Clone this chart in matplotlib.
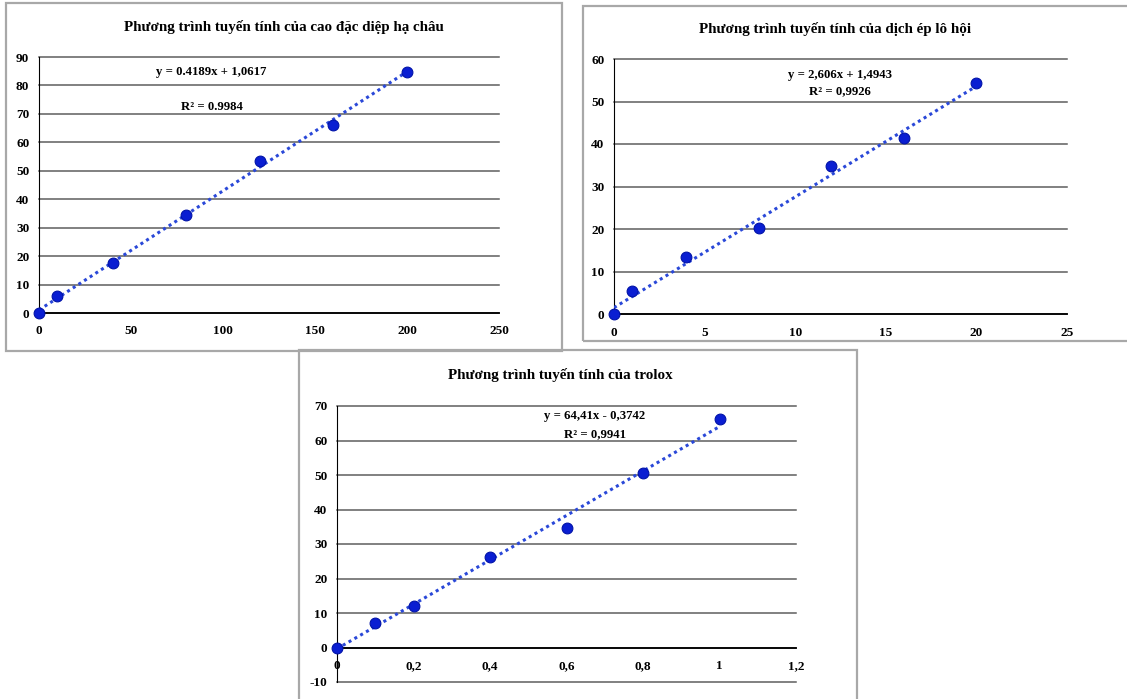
import matplotlib
matplotlib.use("Agg")
import matplotlib.pyplot as plt
import numpy as np
from matplotlib.patches import Rectangle

plt.rcParams['font.family'] = ['Liberation Serif', 'DejaVu Serif']
plt.rcParams['font.weight'] = 'bold'
plt.rcParams['axes.unicode_minus'] = False

# data
x_hachau = [0, 10, 40, 80, 120, 160, 200]
y_hachau = [0, 5.9, 17.6, 34.4, 53.3, 66.1, 84.9]
coef_hachau = (0.4189, 1.0617)

x_lohoi = [0, 1, 4, 8, 12, 16, 20]
y_lohoi = [0, 5.5, 13.4, 20.3, 34.8, 41.3, 54.3]
coef_lohoi = (2.606, 1.4943)

x_trolox = [0, 0.1, 0.2, 0.4, 0.6, 0.8, 1.0]
y_trolox = [0, 7.0, 12.1, 26.3, 34.6, 50.7, 66.2]
coef_trolox = (64.41, -0.3742)

W, H = 1127, 699
fig = plt.figure(figsize=(W / 100, H / 100), dpi=100)


def px(l, t, r, b):
    # pixel box (top-left origin) -> figure fraction
    return [l / W, (H - b) / H, (r - l) / W, (b - t) / H]


# panel frames
for (l, t, r, b) in [(6, 3, 562, 351), (583, 6, 1130, 341), (299, 350, 857, 702)]:
    fig.add_artist(Rectangle((l / W, (H - b) / H), (r - l) / W, (b - t) / H,
                             transform=fig.transFigure, fill=False,
                             edgecolor='#a8a8a8', lw=1.6))

marker_c = '#0a1ed2'
line_c = '#2a48d8'


def panel(box, xs, ys, coef, xlim, ylim, xt, yt, xtl, title, tpos, eq, eqpos, r2, r2pos):
    ax = fig.add_axes(px(*box))
    ax.set_xlim(*xlim)
    ax.set_ylim(*ylim)
    ax.set_xticks(xt)
    ax.set_xticklabels(xtl)
    ax.set_yticks(yt)
    ax.yaxis.grid(True, color='#5e5e5e', lw=1.1)
    for gl in ax.get_ygridlines():
        gl.set_clip_on(False)
    ax.set_axisbelow(True)
    for s in ['top', 'right']:
        ax.spines[s].set_visible(False)
    ax.spines['left'].set_color('black')
    ax.spines['bottom'].set_color('black')
    ax.spines['bottom'].set_linewidth(1.3)
    ax.spines['bottom'].set_position(('data', 0))
    ax.tick_params(length=0, labelsize=9.5, pad=7)
    ax.tick_params(axis='x', pad=9)
    for lab in ax.get_xticklabels() + ax.get_yticklabels():
        lab.set_fontweight('bold')
    a, b = coef
    xx = np.array([xs[0], xs[-1]])
    ax.plot(xx, a * xx + b, ls=(0, (1, 1.2)), color=line_c, lw=2.2, zorder=3)
    ax.scatter(xs, ys, s=60, color=marker_c, edgecolor='#0012a8', lw=0.8, zorder=4, clip_on=False)
    fig.text(tpos[0] / W, 1 - tpos[1] / H, title, ha='center', va='center',
             fontsize=10.8, fontweight='bold')
    fig.text(eqpos[0] / W, 1 - eqpos[1] / H, eq, ha='center', va='center',
             fontsize=9.2, fontweight='bold')
    fig.text(r2pos[0] / W, 1 - r2pos[1] / H, r2, ha='center', va='center',
             fontsize=9.2, fontweight='bold')
    return ax


panel((39, 57, 499, 313), x_hachau, y_hachau, coef_hachau, (0, 250), (0, 90),
      [0, 50, 100, 150, 200, 250], range(0, 91, 10),
      ['0', '50', '100', '150', '200', '250'],
      'Phương trình tuyến tính của cao đặc diệp hạ châu', (284, 27),
      'y = 0.4189x + 1,0617', (211, 72), 'R² = 0.9984', (212, 107))

panel((614, 59, 1067, 314), x_lohoi, y_lohoi, coef_lohoi, (0, 25), (0, 60),
      [0, 5, 10, 15, 20, 25], range(0, 61, 10),
      ['0', '5', '10', '15', '20', '25'],
      'Phương trình tuyến tính của dịch ép lô hội', (835, 29),
      'y = 2,606x + 1,4943', (840, 75), 'R² = 0,9926', (840, 91))

panel((337, 406, 796, 682), x_trolox, y_trolox, coef_trolox, (0, 1.2), (-10, 70),
      [0, 0.2, 0.4, 0.6, 0.8, 1.0, 1.2], range(-10, 71, 10),
      ['0', '0,2', '0,4', '0,6', '0,8', '1', '1,2'],
      'Phương trình tuyến tính của trolox', (560, 375),
      'y = 64,41x - 0,3742', (595, 416), 'R² = 0,9941', (595, 434))

fig.savefig('out.png', dpi=100)
